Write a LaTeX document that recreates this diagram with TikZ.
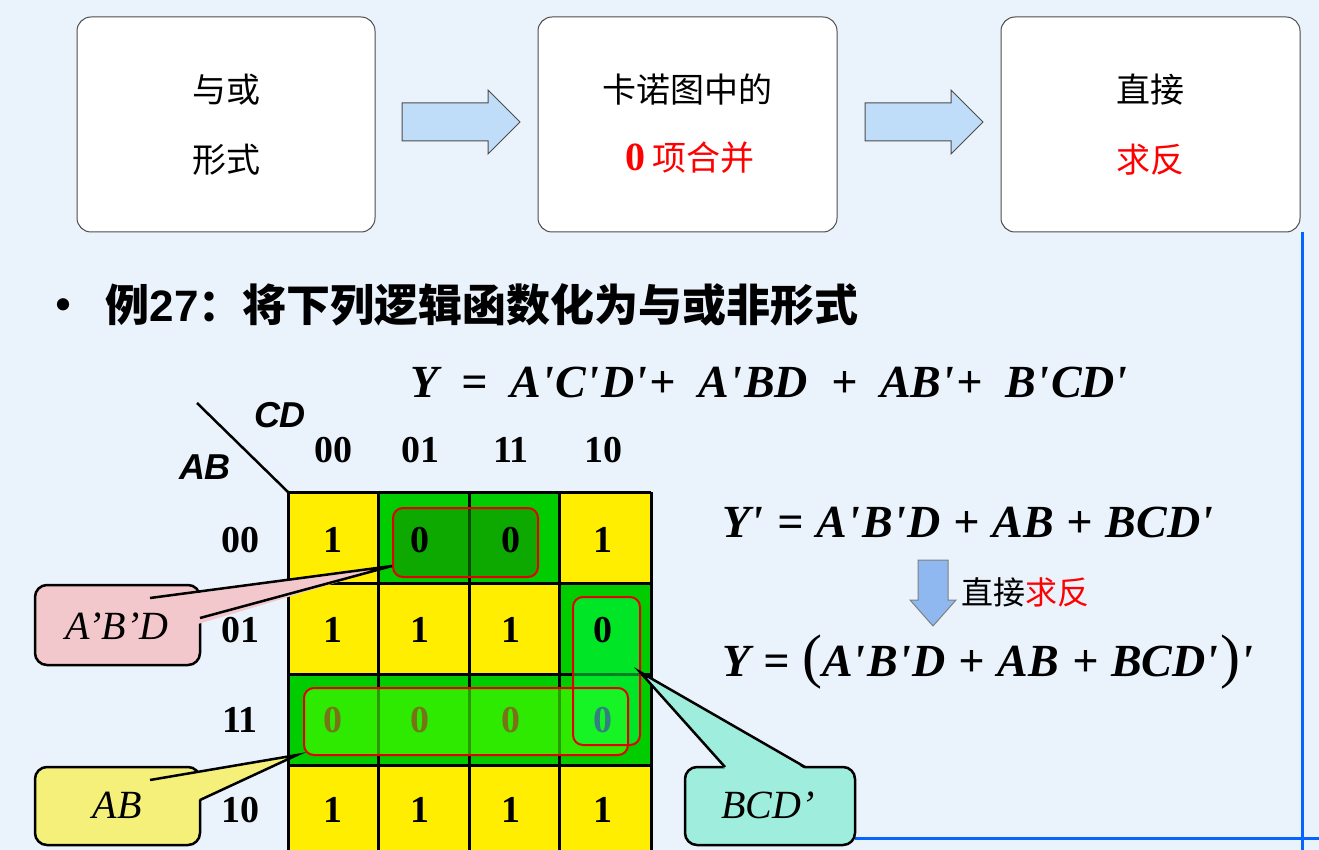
\documentclass[tikz,border=0pt]{standalone}
\usepackage{fontspec}
\setmainfont{Liberation Serif}
\newfontfamily\eqf[Ligatures=TeXOff]{Liberation Serif}
\newfontfamily\cjk{Noto Sans CJK SC}
\newfontfamily\hsans{Liberation Sans}
\newcommand\ap{'\hspace{2pt}}
\definecolor{bg}{HTML}{EAF3FC}
\definecolor{ky}{HTML}{FFEE00}
\definecolor{kg}{HTML}{00CC00}
\definecolor{pinkc}{HTML}{F2C8CC}
\definecolor{yelc}{HTML}{F5F07A}
\definecolor{tealc}{HTML}{9FEEDD}
\definecolor{arr}{HTML}{BFDDF8}
\definecolor{darr}{HTML}{8FB8F0}
\tikzset{
 topbox/.style={draw=black!70,fill=white,rounded corners=14pt,line width=1pt},
 toptxt/.style={font=\cjk\fontsize{34}{40}\selectfont,align=center},
 rarrow/.style={draw=black!70,fill=arr,line width=1pt},
 eq/.style={font=\eqf\fontsize{46}{50}\selectfont\bfseries\itshape,anchor=west,inner sep=0pt},
 dig/.style={font=\fontsize{38}{40}\selectfont\bfseries,inner sep=0pt},
 grp/.style={draw=red!90!black,line width=2pt,rounded corners=10pt},
 call/.style={draw=black,line width=2.5pt,rounded corners=12pt},
}
\begin{document}
\begin{tikzpicture}[x=1pt,y=-1pt]
\fill[bg] (0,0) rectangle (1319,850);
\useasboundingbox (0,0) rectangle (1319,850);
\draw[line width=3pt,color=blue!60!cyan] (1302,232) -- (1302,850);
\draw[line width=3pt,color=blue!60!cyan] (855,838) -- (1319,838);
\draw[topbox] (77,17) rectangle (375,232);
\draw[topbox] (538,17) rectangle (837,232);
\draw[topbox] (1001,17) rectangle (1300,232);
\node[toptxt] (t1) at (226,90) {与或};
\node[toptxt] (t2) at (226,160) {形式};
\node[toptxt] (t3) at (687,90) {卡诺图中的};
\node[toptxt] (t4) at (690,158) {\textcolor{red}{\fontspec{Liberation Serif}\bfseries\fontsize{40}{40}\selectfont 0}\ \textcolor{red}{项合并}};
\node[toptxt] (t5) at (1150,90) {直接};
\node[toptxt,text=red] (t6) at (1150,160) {求反};
\draw[rarrow] (402,103) -- (488,103) -- (488,90) -- (520,122) -- (488,154) -- (488,141) -- (402,141) -- cycle;
\draw[rarrow] (865,103) -- (951,103) -- (951,90) -- (983,122) -- (951,154) -- (951,141) -- (865,141) -- cycle;
\node[font=\cjk\fontsize{44}{50}\selectfont\bfseries,anchor=west] (b) at (38,305) {•\ \ 例\fontspec{Liberation Sans}\bfseries 27\cjk\bfseries：将下列逻辑函数化为与或非形式};
\node[eq] (e1) at (410,382) {Y\enspace=\enspace A\ap C\ap D\ap+\enspace A\ap BD\enspace+\enspace AB\ap+\enspace B\ap CD\ap};
\node[eq] (e2) at (722,522) {Y\ap\;=\;A\ap B\ap D\;+\;AB\;+\;BCD\ap};
\draw[draw=black!50,fill=darr,line width=1pt] (918,560) -- (948,560) -- (948,600) -- (956,600) -- (933,626) -- (910,600) -- (918,600) -- cycle;
\node[font=\cjk\fontsize{32}{36}\selectfont,anchor=west] (zf) at (958,592) {直接\textcolor{red}{求反}};
\node[eq] (e3) at (722,662) {Y\;=\;{\upshape\mdseries\fontsize{60}{60}\selectfont(}A\ap B\ap D\;+\;AB\;+\;BCD\ap{\upshape\mdseries\fontsize{60}{60}\selectfont)}\ap};
\foreach \y in {492,583,674,765}{
 \foreach \x in {288,378,469,559}{
   \fill[ky] (\x,\y) rectangle ++(91,91);
 }}
\fill[kg] (378,492) rectangle (559,583);
\fill[kg] (559,583) rectangle (651,674);
\fill[kg] (288,674) rectangle (651,765);
\foreach \x in {288,378,469,559,651} \draw[line width=3pt] (\x,492) -- (\x,850);
\foreach \y in {492,583,674,765} \draw[line width=3pt] (288,\y) -- (651,\y);
\fill[green!50!black!90!yellow,opacity=0.55,rounded corners=10pt] (393,508) rectangle (538,577);
\fill[green!70!yellow,opacity=0.6,rounded corners=10pt] (304,688) rectangle (628,755);
\fill[green!70!cyan,opacity=0.5,rounded corners=10pt] (573,597) rectangle (640,745);
\foreach \y/\a/\b/\cc/\d in {540/1/0/0/1,630/1/1/1/0,810/1/1/1/1}{
 \node[dig] at (333,\y) {\a};
 \node[dig] at (420,\y) {\b};
 \node[dig] at (511,\y) {\cc};
 \node[dig] at (603,\y) {\d};
}
\foreach \x in {333,420,511} \node[dig,text=olive!80!black] at (\x,720) {0};
\node[dig,text=teal!60!gray] at (603,720) {0};
\draw[grp] (393,508) rectangle (538,577);
\draw[grp] (304,688) rectangle (628,755);
\draw[grp] (573,597) rectangle (640,745);
\draw[line width=2.5pt] (197,403) -- (288,492);
\node[font=\hsans\fontsize{36}{38}\selectfont\bfseries\itshape] (cd) at (280,415) {CD};
\node[font=\hsans\fontsize{36}{38}\selectfont\bfseries\itshape] (ab) at (205,467) {AB};
\foreach \x/\t in {333/00,420/01,511/11,603/10} \node[dig] at (\x,450) {\t};
\foreach \y/\t in {540/00,630/01,720/11,810/10} \node[dig] at (240,\y) {\t};
\coordinate (p1) at (392,566);
\coordinate (p2) at (297,755);
\coordinate (p3) at (640,672);
\draw[call,fill=pinkc] (35,585) rectangle (200,665);
\fill[pinkc] (148,600) -- (p1) -- (198,624) -- (198,605) -- cycle;
\draw[line width=2.5pt] (150,598) -- (p1) -- (200,618);
\node[font=\fontsize{40}{42}\selectfont\itshape] (c1) at (117,626) {A’B’D};
\draw[call,fill=yelc] (35,767) rectangle (200,845);
\fill[yelc] (148,782) -- (p2) -- (198,800) -- (198,782) -- cycle;
\draw[line width=2.5pt] (150,780) -- (p2) -- (200,800);
\node[font=\fontsize{40}{42}\selectfont\itshape] (c2) at (117,805) {AB};
\draw[call,fill=tealc] (685,767) rectangle (855,845);
\fill[tealc] (p3) -- (725,769) -- (805,769) -- cycle;
\draw[line width=2.5pt] (725,767) -- (p3) -- (805,767);
\node[font=\fontsize{40}{42}\selectfont\itshape] (c3) at (768,805) {BCD’};
\end{tikzpicture}
\end{document}
